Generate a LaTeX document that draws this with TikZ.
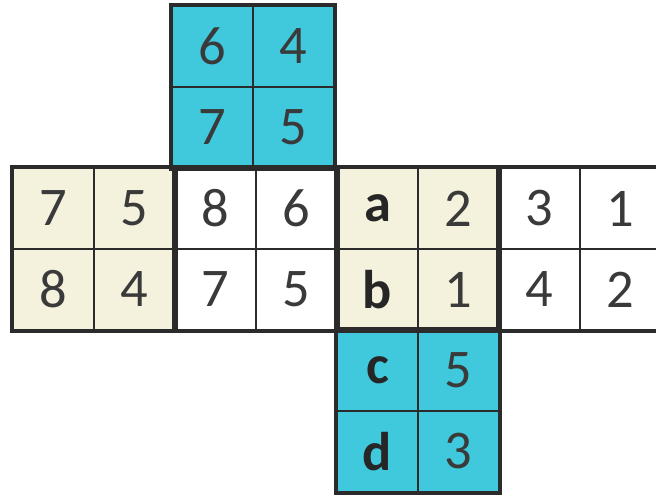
\documentclass[tikz,border=0pt]{standalone}
\usepackage{fontspec}
\setmainfont{Carlito}
\usetikzlibrary{fit,backgrounds}
\definecolor{penline}{HTML}{2B2B2B}
\definecolor{penink}{HTML}{3A3A3A}
\definecolor{markcyan}{HTML}{40C8DC}
\definecolor{paleyellow}{HTML}{F4F1DC}
\tikzset{
  cell/.style={
    draw=penline,
    line width=1.1pt,
    minimum size=1.62cm,
    inner sep=0pt,
    text=penink,
    font=\fontsize{31}{31}\selectfont
  },
  hicell/.style={cell, fill=markcyan},
  tancell/.style={cell, fill=paleyellow},
  plaincell/.style={cell, fill=white},
  letter/.style={font=\fontsize{31}{31}\selectfont\bfseries, text=black!85},
  face/.style={draw=penline, line width=2.2pt, inner sep=0pt}
}

\begin{document}
\begin{tikzpicture}[x=0.02cm,y=-0.02cm]

\useasboundingbox (0,0) rectangle (656,495);
\clip (0,0) rectangle (656,495);
\fill[white] (0,0) rectangle (656,495);

% top face
\node[hicell] (t11) at (212.5,46.5) {6};
\node[hicell] (t12) at (293.5,46.5) {4};
\node[hicell] (t21) at (212.5,127.5) {7};
\node[hicell] (t22) at (293.5,127.5) {5};

% middle row, left face
\node[tancell] (l11) at (53.5,208.5) {7};
\node[tancell] (l12) at (134.5,208.5) {5};
\node[tancell] (l21) at (53.5,289.5) {8};
\node[tancell] (l22) at (134.5,289.5) {4};

% middle row, front face
\node[plaincell] (f11) at (215.5,208.5) {8};
\node[plaincell] (f12) at (296.5,208.5) {6};
\node[plaincell] (f21) at (215.5,289.5) {7};
\node[plaincell] (f22) at (296.5,289.5) {5};

% middle row, right face
\node[tancell, letter] (r11) at (377.5,208.5) {a};
\node[tancell] (r12) at (458.5,208.5) {2};
\node[tancell, letter] (r21) at (377.5,289.5) {b};
\node[tancell] (r22) at (458.5,289.5) {1};

% middle row, back face
\node[plaincell] (k11) at (539.5,208.5) {3};
\node[plaincell] (k12) at (620.5,208.5) {1};
\node[plaincell] (k21) at (539.5,289.5) {4};
\node[plaincell] (k22) at (620.5,289.5) {2};

% bottom face
\node[hicell, letter] (b11) at (377.5,370.5) {c};
\node[hicell] (b12) at (458.5,370.5) {5};
\node[hicell, letter] (b21) at (377.5,451.5) {d};
\node[hicell] (b22) at (458.5,451.5) {3};

% face outlines
\node[face, fit=(t11)(t22)] (top) {};
\node[face, fit=(l11)(l22)] (left) {};
\node[face, fit=(f11)(f22)] (front) {};
\node[face, fit=(r11)(r22)] (right) {};
\node[face, fit=(k11)(k22)] (back) {};
\node[face, fit=(b11)(b22)] (bottom) {};

\end{tikzpicture}
\end{document}
